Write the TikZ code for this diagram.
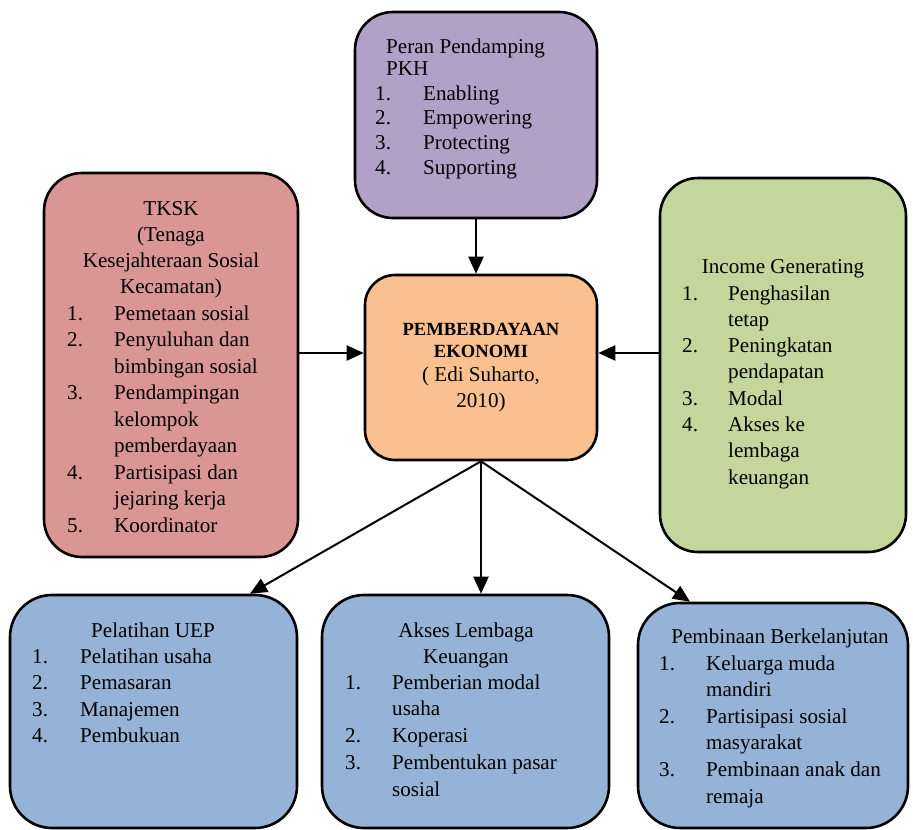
\documentclass[tikz,border=0pt]{standalone}
\usepackage{fontspec}
\setmainfont{Liberation Serif}
\usetikzlibrary{arrows.meta}
\definecolor{cpurple}{HTML}{B2A1C7}
\definecolor{cred}{HTML}{D99694}
\definecolor{corange}{HTML}{FAC090}
\definecolor{cgreen}{HTML}{C3D69B}
\definecolor{cblue}{HTML}{95B3D7}
\newcommand\itemlist[2]{\begin{tabular}[t]{@{}p{#1}@{}l@{}}#2\end{tabular}}
\newcommand\ctitle[1]{\begin{tabular}[t]{@{}c@{}}#1\end{tabular}}
\newcommand\ltitle[1]{\begin{tabular}[t]{@{}l@{}}#1\end{tabular}}
\begin{document}
\begin{tikzpicture}[x=1pt,y=-1pt,
  box/.style={draw=black, line width=2.6pt, rounded corners=38pt, inner sep=0pt},
  txt/.style={inner sep=0pt, font=\fontsize{21.1}{26.4}\selectfont},
  conn/.style={line width=2pt, -{Triangle[length=17pt,width=15pt]}},
]
\useasboundingbox (0,0) rectangle (913,830);

% boxes
\node[box, fill=cpurple, minimum width=242pt, minimum height=206pt] (pkh) at (476,115) {};
\node[box, fill=cred, minimum width=254pt, minimum height=384pt] (tksk) at (171,365) {};
\node[box, fill=corange, rounded corners=30pt, minimum width=232pt, minimum height=185pt] (center) at (481,367.5) {};
\node[box, fill=cgreen, minimum width=246pt, minimum height=374pt] (green) at (783,365) {};
\node[box, fill=cblue, rounded corners=42pt, minimum width=287pt, minimum height=233pt] (pel) at (153.5,711.5) {};
\node[box, fill=cblue, rounded corners=42pt, minimum width=287pt, minimum height=233pt] (akses) at (465.5,711.5) {};
\node[box, fill=cblue, rounded corners=42pt, minimum width=270pt, minimum height=225pt] (pemb) at (773,715.5) {};

% PKH
\node[txt, font=\fontsize{21.1}{22}\selectfont, anchor=base west] (pkhtitle) at (386,53)
  {\ltitle{Peran Pendamping\\PKH}};
\node[txt, font=\fontsize{21.1}{24.7}\selectfont, anchor=base west] (pkhlist) at (375,100)
  {\itemlist{48pt}{1. & Enabling\\ 2. & Empowering\\ 3. & Protecting\\ 4. & Supporting}};

% TKSK
\node[txt, font=\fontsize{21.1}{26}\selectfont, anchor=base] (tksktitle) at (171,215)
  {\ctitle{TKSK\\(Tenaga\\Kesejahteraan Sosial\\Kecamatan)}};
\node[txt, font=\fontsize{21.1}{26.5}\selectfont, anchor=base west] (tksklist) at (67,320)
  {\itemlist{47pt}{1. & Pemetaan sosial\\ 2. & Penyuluhan dan\\ & bimbingan sosial\\ 3. & Pendampingan\\ & kelompok\\ & pemberdayaan\\ 4. & Partisipasi dan\\ & jejaring kerja\\ 5. & Koordinator}};

% center
\node[txt, font=\fontsize{18.6}{22}\selectfont\bfseries, anchor=base] (ctitle) at (481,335)
  {\ctitle{PEMBERDAYAAN\\EKONOMI}};
\node[txt, font=\fontsize{21.1}{26}\selectfont, anchor=base] (cref) at (481,381)
  {\ctitle{( Edi Suharto,\\2010)}};

% green
\node[txt, anchor=base] (gtitle) at (783,273) {Income Generating};
\node[txt, font=\fontsize{21.1}{26.3}\selectfont, anchor=base west] (glist) at (682,300)
  {\itemlist{46pt}{1. & Penghasilan\\ & tetap\\ 2. & Peningkatan\\ & pendapatan\\ 3. & Modal\\ 4. & Akses ke\\ & lembaga\\ & keuangan}};

% Pelatihan UEP
\node[txt, anchor=base] (peltitle) at (153,637) {Pelatihan UEP};
\node[txt, font=\fontsize{21.1}{26.6}\selectfont, anchor=base west] (pellist) at (32,663)
  {\itemlist{48pt}{1. & Pelatihan usaha\\ 2. & Pemasaran\\ 3. & Manajemen\\ 4. & Pembukuan}};

% Akses
\node[txt, font=\fontsize{21.1}{26}\selectfont, anchor=base] (aktitle) at (466,637)
  {\ctitle{Akses Lembaga\\Keuangan}};
\node[txt, font=\fontsize{21.1}{26.75}\selectfont, anchor=base west] (aklist) at (345,689)
  {\itemlist{47pt}{1. & Pemberian modal\\ & usaha\\ 2. & Koperasi\\ 3. & Pembentukan pasar\\ & sosial}};

% Pembinaan
\node[txt, anchor=base] (pbtitle) at (780,643) {Pembinaan Berkelanjutan};
\node[txt, font=\fontsize{21.1}{26.6}\selectfont, anchor=base west] (pblist) at (659,670)
  {\itemlist{47pt}{1. & Keluarga muda\\ & mandiri\\ 2. & Partisipasi sosial\\ & masyarakat\\ 3. & Pembinaan anak dan\\ & remaja}};

% connectors
\draw[conn] (pkh.south) -- (pkh.south |- center.north);
\draw[conn] ([yshift=12pt]tksk.east) -- ([yshift=12pt]tksk.east -| center.west);
\draw[conn] ([yshift=12pt]green.west) -- ([yshift=12pt]green.west -| center.east);
\draw[conn] (center.south) -- ([xshift=96.5pt]pel.north);
\draw[conn] (center.south) -- (center.south |- akses.north);
\draw[conn] (center.south) -- ([xshift=-83pt]pemb.north);
\end{tikzpicture}
\end{document}
